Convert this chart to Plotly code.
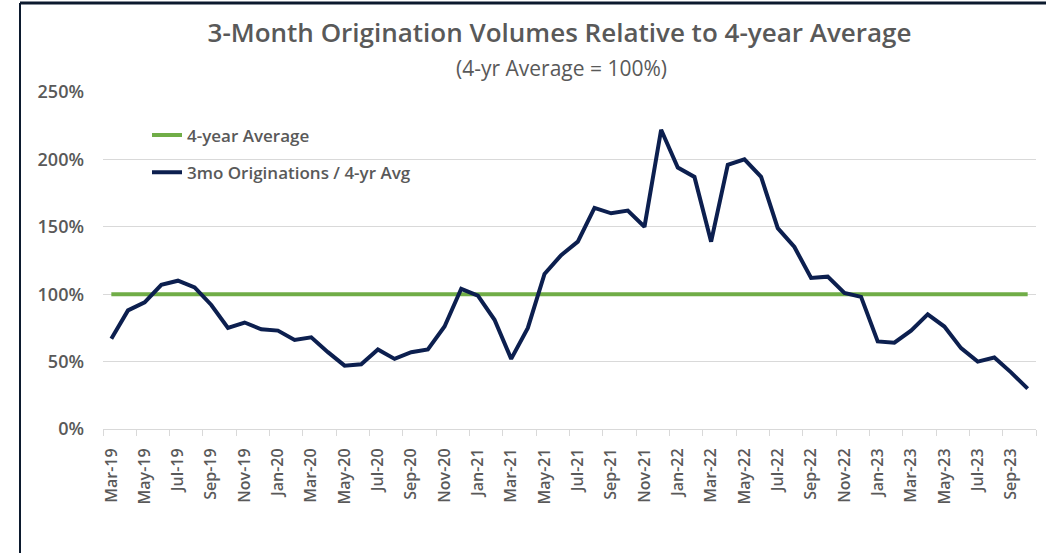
import plotly.graph_objects as go
import pandas as pd

# months Mar-19 .. Oct-23
months = pd.date_range("2019-03-01", "2023-10-01", freq="MS").strftime("%b-%y").tolist()

# 3mo originations / 4-yr average, in %
ratio = [67, 88, 94, 107, 110, 105, 92, 75, 79, 74, 73, 66, 68, 57, 47, 48,
         59, 52, 57, 59, 76, 104, 99, 81, 52, 75, 115, 129, 139, 164, 160, 162,
         150, 222, 194, 187, 139, 196, 200, 187, 149, 135, 112, 113, 101, 98,
         65, 64, 73, 85, 76, 60, 50, 53, 42, 30]
avg = [100] * len(months)

navy = "#0c1f4f"
green = "#70ad47"
grey = "#595959"

# plot area in pixels (left, right, top, bottom)
L, R, T, B = 103, 1036, 92, 429
pw, ph = R - L, B - T

def px(x):
    return (x - L) / pw

def py(y):
    return (B - y) / ph

fig = go.Figure()
fig.add_trace(go.Scatter(x=months, y=avg, mode="lines", name="4-year Average",
                         line=dict(color=green, width=4), legendgroup="a"))
fig.add_trace(go.Scatter(x=months, y=ratio, mode="lines", name="3mo Originations / 4-yr Avg",
                         line=dict(color=navy, width=4), legendgroup="b"))

fig.update_layout(
    width=1046, height=553,
    paper_bgcolor="white", plot_bgcolor="white",
    margin=dict(l=L, r=1046 - R, t=T, b=553 - B),
    font=dict(family="Open Sans", color=grey),
    title=dict(text="3-Month Origination Volumes Relative to 4-year Average",
               x=559.5 / 1046, xanchor="center", y=1 - 33 / 553, yanchor="middle",
               font=dict(size=26, color=grey, weight=600)),
    annotations=[dict(text="(4-yr Average = 100%)", xref="paper", yref="paper",
                      x=px(561), y=py(68), yanchor="middle", showarrow=False,
                      font=dict(size=21, color=grey))],
    legend=dict(x=px(147), y=py(154), xanchor="left", yanchor="middle",
                bgcolor="rgba(0,0,0,0)", tracegroupgap=12,
                font=dict(size=17, color=grey, weight=600)),
    xaxis=dict(type="category", tickangle=-90, dtick=2, tickson="boundaries",
               ticks="outside", ticklen=6, tickcolor="#d9d9d9", ticklabelstandoff=12,
               showline=True, linecolor="#d9d9d9", showgrid=False,
               tickfont=dict(size=16, color=grey, weight=600),
               range=[-0.5, len(months) - 0.5]),
    yaxis=dict(range=[0, 250], dtick=50, ticksuffix="%", gridcolor="#d9d9d9",
               zeroline=False, ticklabelstandoff=18,
               tickfont=dict(size=18, color=grey, weight=600)),
    shapes=[dict(type="line", xref="paper", yref="paper", x0=px(20), x1=px(20),
                 y0=py(553), y1=py(3), line=dict(color="#0c1a2e", width=2)),
            dict(type="line", xref="paper", yref="paper", x0=px(20), x1=px(1046),
                 y0=py(3), y1=py(3), line=dict(color="#0c1a2e", width=3))],
)

fig.write_html("out.html", config={"displayModeBar": False},
               post_script="document.body.style.margin='0';")
